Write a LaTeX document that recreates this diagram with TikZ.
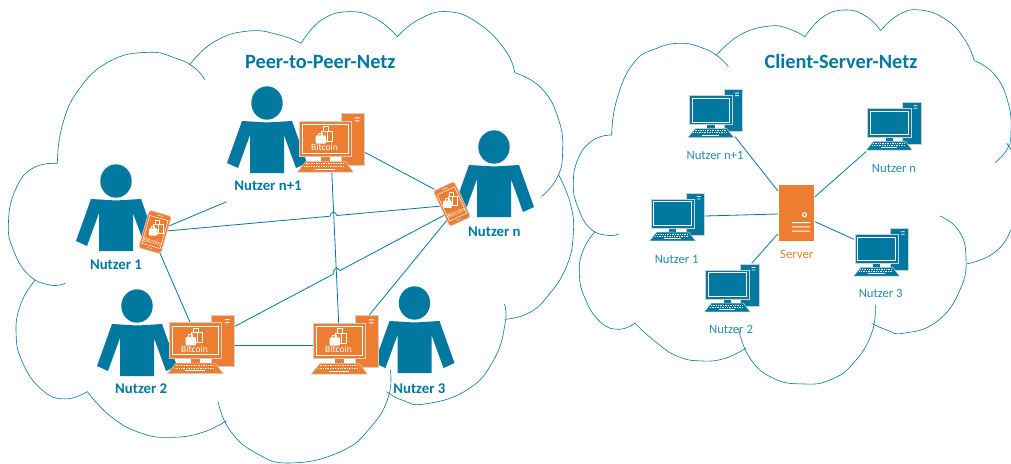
\documentclass[tikz,border=0pt]{standalone}
\usepackage{fontspec}
\setmainfont{Carlito}
\definecolor{netzblau}{HTML}{00789F}
\definecolor{netzorange}{HTML}{ED7D31}
\definecolor{rahmen}{HTML}{CFCFCF}
\newcommand{\lobe}[1]{\draw[wolke] plot[smooth,tension=.8] coordinates {#1};}
\tikzset{
  verb/.style={draw=netzblau,line width=.8pt},
  wolke/.style={draw=netzblau,line width=.6pt},
  titel/.style={text=netzblau,font=\fontsize{20.3}{22}\selectfont\bfseries},
  peerlabel/.style={text=netzblau,font=\fontsize{14.8}{16}\selectfont\bfseries},
  clientlabel/.style={text=netzblau!85,font=\fontsize{12.7}{14}\selectfont},
  pics/nutzer/.style={code={
    \fill[netzblau] (0,0) ellipse (15.7 and 16.7);
    \fill[netzblau] (-25,18) -- (0,19.5) -- (25,18) -- (40,60) -- (29,65) -- (17,32)
      -- (17,70) -- (-17,70) -- (-17,32) -- (-29,65) -- (-40,60) -- cycle;
  }},
  pics/koffer/.style={code={
    \draw[white,line width=1pt] (-1,-4) rectangle (4,-8.7);
    \draw[white,line width=1pt,fill=netzorange] (-2.6,-4) rectangle (8.4,6);
    \draw[white,line width=1pt] (3,-4) -- (3,6);
    \draw[white,line width=1pt] (-6,0.3) -- (-6,-2) -- (-1.5,-2) -- (-1.5,0.3);
    \fill[white,rounded corners=1pt] (-8.6,0.3) rectangle (1.7,8.7);
  }},
  pics/desktop/.style={code={
    \filldraw[fill=#1,draw=rahmen,line width=.7pt] (42.7,-7.5) rectangle (65,44);
    \fill[white] (56,-3.6) rectangle (60.5,-2.6) (56,-.6) rectangle (60.5,.4);
    \fill[#1] (21.7,35) rectangle (31,40.5);
    \filldraw[fill=#1,draw=rahmen,line width=.7pt] (0,0) rectangle (52.7,35.3);
    \draw[white,line width=.6pt] (3.3,3.3) rectangle (49.3,32);
    \filldraw[fill=#1,draw=rahmen,line width=.5pt] (7,40.3) -- (46,40.3) -- (54.3,51) -- (-1.7,51) -- cycle;
    \draw[white,line width=1pt,dash pattern=on 1pt off .7pt] (6.5,42.7) -- (44,42.7);
    \draw[white,line width=1pt,dash pattern=on 1pt off .7pt] (5,45.3) -- (45.5,45.3);
    \draw[white,line width=1pt] (16,48.2) -- (36,48.2);
  }},
  pics/bitcoinpc/.style={code={
    \pic {desktop=netzorange};
    \pic at (25.3,14) {koffer};
    \node[text=white,font=\fontsize{9.5}{10}\selectfont] (-txt) at (25.5,26.3) {Bitcoin};
  }},
  pics/phone/.style={code={
    \filldraw[fill=netzorange,draw=rahmen,line width=.7pt,rounded corners=2.5pt] (-11.5,-19.5) rectangle (11.5,19.5);
    \draw[white,line width=.5pt] (-9.5,-14.5) rectangle (9.5,14.5);
    \draw[white,line width=.5pt] (-3,-17) -- (3,-17);
    \draw[white,line width=.8pt,dash pattern=on .8pt off 1.2pt] (-3,17) -- (3,17);
    \pic[scale=.85] at (0,-4) {koffer};
    \node[text=white,transform shape,font=\fontsize{6.5}{7}\selectfont] (-txt) at (0,10) {Bitcoin};
  }},
}
\begin{document}
\begin{tikzpicture}[x=1pt,y=-1pt]
\useasboundingbox (0,0) rectangle (1011,463);
% Cloud of the peer-to-peer net
\begin{scope}[x=.3827pt,y=-.3333pt]
\lobe{(150,490) (162,380) (205,270) (285,185) (385,157) (460,175) (510,205) (535,240)}
\lobe{(495,195) (560,125) (650,93) (730,105) (787,130)}
\lobe{(787,130) (840,60) (915,35) (985,58) (1038,110)}
\lobe{(1038,110) (1095,58) (1170,35) (1250,70) (1320,150) (1345,218)}
\lobe{(1345,218) (1415,265) (1460,360) (1470,460) (1455,535) (1415,590)}
\lobe{(1460,525) (1490,610) (1498,700) (1480,800) (1430,890) (1380,940) (1320,958)}
\lobe{(1318,912) (1320,970) (1290,1080) (1220,1170) (1110,1212) (1050,1200) (1010,1175)}
\lobe{(1020,1110) (1015,1190) (970,1280) (890,1355) (760,1389) (670,1360) (600,1290) (570,1205)}
\lobe{(592,1262) (530,1297) (450,1312) (370,1300) (290,1250) (228,1175)}
\lobe{(228,1175) (170,1197) (110,1170) (60,1090) (42,1000) (55,910) (92,840)}
\lobe{(170,850) (130,855) (75,825) (35,750) (22,670) (40,570) (85,505) (150,490)}
\end{scope}
% Cloud of the client-server net
\begin{scope}[shift={(570,0)},x=.3333pt,y=-.3333pt]
\lobe{(125,405) (140,300) (190,190) (260,145) (335,130) (400,145) (445,170) (475,200)}
\lobe{(440,165) (510,105) (600,78) (660,88) (705,110)}
\lobe{(705,110) (760,50) (830,30) (890,50) (932,92)}
\lobe{(932,92) (985,45) (1050,30) (1130,60) (1185,120) (1213,182)}
\lobe{(1213,182) (1275,225) (1315,310) (1323,400) (1310,450) (1275,488)}
\lobe{(1310,430) (1340,490) (1350,590) (1323,690) (1270,760) (1190,792)}
\lobe{(1110,648) (1165,690) (1188,770) (1170,870) (1100,965) (1000,1000) (950,990) (905,970)}
\lobe{(916,915) (905,1000) (850,1090) (780,1140) (700,1152) (610,1135) (540,1075) (505,985)}
\lobe{(527,1045) (465,1075) (395,1083) (320,1068) (250,1020) (195,970)}
\lobe{(195,970) (145,988) (90,965) (45,895) (28,820) (40,750) (75,695)}
\lobe{(147,702) (110,706) (60,685) (25,625) (10,555) (25,475) (70,420) (125,405)}
\end{scope}
% Users of the peer-to-peer net
\pic at (267,103) {nutzer};
\pic at (116,181) {nutzer};
\pic at (137,306) {nutzer};
\pic at (414.5,303) {nutzer};
\pic at (494,147) {nutzer};
% End points of the peer-to-peer links
\coordinate (pcNa) at (363.6,151.7);
\coordinate (pcNb) at (331.8,172.7);
\coordinate (pcNc) at (226.6,201.7);
\coordinate (phNa) at (434.4,189.3);
\coordinate (phNb) at (442,206);
\coordinate (phNc) at (447.8,213.3);
\coordinate (phNd) at (448.5,218.3);
\coordinate (phAa) at (167.2,226.7);
\coordinate (phAb) at (166.5,231);
\coordinate (phAc) at (160,253.3);
\coordinate (pcBa) at (190.2,322.7);
\coordinate (pcBb) at (234.2,326.7);
\coordinate (pcBc) at (234.2,345.7);
\coordinate (pcCa) at (338.7,323.3);
\coordinate (pcCb) at (369.3,315);
\coordinate (pcCc) at (313,345.7);
% Links, two of them hop over the vertical one
\draw[verb] (pcNa) -- (phNa);
\draw[verb] (pcNc) -- (phAa);
\draw[verb] (phAb) -- (330,216.2) .. controls (331,211) and (335,211) .. (337,215.5) -- (phNb);
\draw[verb] (phAc) -- (pcBa);
\draw[verb] (pcNb) -- (pcCa);
\draw[verb] (pcBb) -- (333,274.3) .. controls (334,267) and (337,267) .. (340,270.5) -- (phNc);
\draw[verb] (phNd) -- (pcCb);
\draw[verb] (pcBc) -- (pcCc);
% Computers and phones on top of the links
\pic (pcN) at (299,121) {bitcoinpc};
\pic (pcB) at (169,322.7) {bitcoinpc};
\pic (pcC) at (313,323) {bitcoinpc};
\pic (phA)[rotate=-16] at (155,232) {phone};
\pic (phN)[rotate=25] at (452,204) {phone};
% Labels of the peer-to-peer net
\node[titel] (titelP) at (320.3,61.5) {Peer-to-Peer-Netz};
\node[peerlabel] (lblN) at (268,185.3) {Nutzer n+1};
\node[peerlabel] (lblM) at (494.4,231.3) {Nutzer n};
\node[peerlabel] (lblA) at (116,264.3) {Nutzer 1};
\node[peerlabel] (lblB) at (141.2,388.3) {Nutzer 2};
\node[peerlabel] (lblC) at (419.4,388.3) {Nutzer 3};
% Server and its clients
\node[fill=netzorange,inner sep=0pt,minimum width=35pt,minimum height=55.7pt] (srv) at (796.5,212.8) {};
\fill[white] (804.5,214.7) circle (2.6);
\fill[netzorange] (804.5,214.7) circle (1.5);
\fill[white] (792,222) rectangle (810,223) (792,226.3) rectangle (810,227.3) (792,230.6) rectangle (810,231.6);
\pic[scale=.82] at (689.3,95.7) {desktop=netzblau};
\pic[scale=.82] at (867.7,108.3) {desktop=netzblau};
\pic[scale=.82] at (651,199) {desktop=netzblau};
\pic[scale=.82] at (705.7,270) {desktop=netzblau};
\pic[scale=.82] at (855,234.3) {desktop=netzblau};
% End points of the client links
\coordinate (clN) at (735,136.7);
\coordinate (clM) at (866,151.7);
\coordinate (clA) at (705,216);
\coordinate (clB) at (751.7,263.3);
\coordinate (clC) at (854,239.3);
\coordinate (srvN) at (777.7,190.7);
\coordinate (srvM) at (815,196.7);
\coordinate (srvA) at (778,214);
\coordinate (srvB) at (777.7,234);
\coordinate (srvC) at (815,221.7);
\foreach \a/\b in {clN/srvN,clM/srvM,clA/srvA,clB/srvB,clC/srvC}
  \draw[verb] (\a) -- (\b);
% Labels of the client-server net
\node[titel] (titelC) at (841,61) {Client-Server-Netz};
\node[text=netzorange,font=\fontsize{12.7}{14}\selectfont] (lblS) at (796.7,254) {Server};
\node[clientlabel] (lblCn) at (715,155) {Nutzer n+1};
\node[clientlabel] (lblCm) at (894,168.3) {Nutzer n};
\node[clientlabel] (lblCa) at (676.7,259.3) {Nutzer 1};
\node[clientlabel] (lblCb) at (731,329.3) {Nutzer 2};
\node[clientlabel] (lblCc) at (880.7,293.3) {Nutzer 3};
\end{tikzpicture}
\end{document}
